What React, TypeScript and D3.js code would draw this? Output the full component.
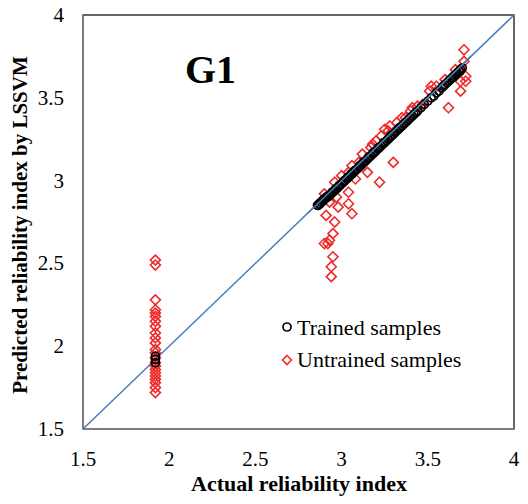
import React from "react";
import * as d3 from "d3";

// actual vs predicted, trained samples (black circles)
const trainedActual = [
  1.92, 1.92, 1.92,
  2.86, 2.865, 2.87, 2.875, 2.88, 2.885, 2.89, 2.895, 2.9, 2.905, 2.91, 2.92, 2.925,
  2.93, 2.94, 2.945, 2.95, 2.96, 2.965, 2.97, 2.98, 2.985, 2.99, 3.0, 3.01, 3.015,
  3.02, 3.03, 3.035, 3.04, 3.05, 3.055, 3.06, 3.07, 3.075, 3.08, 3.09, 3.1, 3.105,
  3.11, 3.12, 3.125, 3.13, 3.14, 3.15, 3.155, 3.16, 3.17, 3.18, 3.185, 3.19, 3.2,
  3.21, 3.215, 3.22, 3.23, 3.24, 3.245, 3.25, 3.26, 3.27, 3.28, 3.285, 3.29, 3.3,
  3.31, 3.32, 3.33, 3.335, 3.34, 3.35, 3.36, 3.37, 3.38, 3.39, 3.4, 3.41, 3.42,
  3.43, 3.44, 3.46, 3.48, 3.5, 3.52, 3.535, 3.55, 3.565, 3.58, 3.59, 3.6, 3.61,
  3.62, 3.63, 3.64, 3.645, 3.65, 3.66, 3.665, 3.67, 3.68, 3.685, 3.69, 3.7,
];
const trainedPredicted = [
  1.9, 1.92, 1.94,
  2.85, 2.85, 2.86, 2.86, 2.87, 2.87, 2.88, 2.88, 2.89, 2.89, 2.9, 2.9, 2.91,
  2.91, 2.92, 2.93, 2.93, 2.94, 2.95, 2.95, 2.96, 2.97, 2.97, 2.98, 2.99, 3.0,
  3.0, 3.01, 3.02, 3.02, 3.03, 3.04, 3.04, 3.05, 3.06, 3.06, 3.07, 3.08, 3.09,
  3.09, 3.1, 3.11, 3.11, 3.12, 3.13, 3.14, 3.14, 3.15, 3.16, 3.17, 3.17, 3.18,
  3.19, 3.2, 3.2, 3.21, 3.22, 3.23, 3.23, 3.24, 3.25, 3.26, 3.27, 3.27, 3.28,
  3.29, 3.3, 3.31, 3.32, 3.32, 3.33, 3.34, 3.35, 3.36, 3.37, 3.38, 3.39, 3.4,
  3.41, 3.42, 3.44, 3.46, 3.48, 3.5, 3.51, 3.53, 3.54, 3.56, 3.57, 3.58, 3.59,
  3.6, 3.61, 3.62, 3.62, 3.63, 3.64, 3.64, 3.65, 3.66, 3.66, 3.67, 3.68,
];

// untrained samples (red diamonds)
const untrainedActual = [
  1.92, 1.92, 1.92, 1.92, 1.92, 1.92, 1.92, 1.92, 1.92, 1.92, 1.92, 1.92,
  1.92, 1.92, 1.92, 1.92, 1.92, 1.92, 1.92, 1.92, 1.92, 1.92, 1.92,
  2.91, 2.96, 2.95, 2.9, 2.92, 2.93, 2.95, 2.94, 2.94, 2.98, 3.04, 3.06, 3.04, 3.22,
  3.18, 3.3, 3.1, 3.15, 3.04, 3.08, 3.41, 3.47, 3.37, 3.28, 3.25, 3.51,
  3.71, 3.71, 3.72, 3.69, 3.72, 3.69, 3.62, 3.52,
  2.9, 2.96, 3.0, 3.06, 3.12, 3.17, 3.2, 3.23, 3.27, 3.32, 3.35, 3.4, 3.44,
  3.55, 3.6, 3.66, 2.93, 2.97,
];
const untrainedPredicted = [
  2.52, 2.49, 2.28, 2.22, 2.2, 2.18, 2.15, 2.12, 2.08, 2.05, 2.02, 1.98,
  1.96, 1.93, 1.9, 1.88, 1.86, 1.84, 1.82, 1.8, 1.78, 1.75, 1.72,
  2.79, 2.75, 2.68, 2.62, 2.62, 2.64, 2.54, 2.48, 2.42, 2.84, 2.86, 2.8, 2.93, 2.99,
  3.22, 3.11, 3.11, 3.05, 3.05, 3.01, 3.44, 3.46, 3.38, 3.33, 3.31, 3.54,
  3.79, 3.72, 3.63, 3.6, 3.6, 3.54, 3.44, 3.57,
  2.92, 2.99, 3.03, 3.09, 3.16, 3.2, 3.24, 3.27, 3.3, 3.35, 3.38, 3.42, 3.45,
  3.57, 3.61, 3.67, 2.87, 2.9,
];

const xTicks = [1.5, 2, 2.5, 3, 3.5, 4];
const yTicks = [1.5, 2, 2.5, 3, 3.5, 4];

const W = 528;
const H = 504;
const plot = { left: 83, right: 514, top: 15, bottom: 429 };
const txt = { fontFamily: "Liberation Serif" };

export default function App() {
  const x = d3.scaleLinear().domain([1.5, 4]).range([plot.left, plot.right]);
  const y = d3.scaleLinear().domain([1.5, 4]).range([plot.bottom, plot.top]);
  const diamond = (cx: number, cy: number, r = 5) =>
    `M${cx},${cy - r}L${cx + r},${cy}L${cx},${cy + r}L${cx - r},${cy}Z`;

  return (
    <svg
      width={W}
      height={H}
      style={{ position: "absolute", left: 0, top: 0, background: "#fff" }}
    >
      <rect
        x={plot.left}
        y={plot.top}
        width={plot.right - plot.left}
        height={plot.bottom - plot.top}
        fill="#fff"
        stroke="#000"
        strokeWidth={1.2}
      />
      <line x1={plot.left} x2={plot.left} y1={plot.top} y2={plot.bottom} stroke="#868686" strokeWidth={1.3} />
      <line x1={plot.left} x2={plot.right} y1={plot.bottom} y2={plot.bottom} stroke="#868686" strokeWidth={1.3} />

      {xTicks.map((t) => (
        <text key={"x" + t} x={x(t)} y={466} textAnchor="middle" style={txt} fontSize={21}>
          {t}
        </text>
      ))}
      {yTicks.map((t) => (
        <text key={"y" + t} x={64} y={y(t) + 7} textAnchor="end" style={txt} fontSize={21}>
          {t}
        </text>
      ))}

      <text x={299} y={491} textAnchor="middle" style={txt} fontSize={22} fontWeight="bold">
        Actual reliability index
      </text>
      <text
        transform={`translate(27,${(plot.top + plot.bottom) / 2 + 3}) rotate(-90)`}
        textAnchor="middle"
        style={txt}
        fontSize={21}
        fontWeight="bold"
      >
        Predicted reliability index by LSSVM
      </text>

      <text x={185} y={83} style={txt} fontSize={40} fontWeight="bold">
        G1
      </text>

      <line x1={x(1.5)} y1={y(1.5)} x2={x(4)} y2={y(4)} stroke="#4a7ebb" strokeWidth={1.5} />

      <g fill="none" stroke="#ee2b2b" strokeWidth={1.6}>
        {untrainedActual.map((a, i) => (
          <path key={i} d={diamond(x(a), y(untrainedPredicted[i]))} />
        ))}
      </g>
      <g fill="none" stroke="#000" strokeWidth={1.7}>
        {trainedActual.map((a, i) => (
          <circle key={i} cx={x(a)} cy={y(trainedPredicted[i])} r={4} />
        ))}
      </g>
      <line x1={x(2.8)} y1={y(2.8)} x2={x(3.75)} y2={y(3.75)} stroke="#4a7ebb" strokeWidth={1.5} />

      <circle cx={287} cy={327} r={4} fill="none" stroke="#000" strokeWidth={1.7} />
      <text x={297} y={335} style={txt} fontSize={22}>
        Trained samples
      </text>
      <path d={diamond(287, 360, 4.5)} fill="none" stroke="#ee2b2b" strokeWidth={1.6} />
      <text x={297} y={367} style={txt} fontSize={22}>
        Untrained samples
      </text>
    </svg>
  );
}
